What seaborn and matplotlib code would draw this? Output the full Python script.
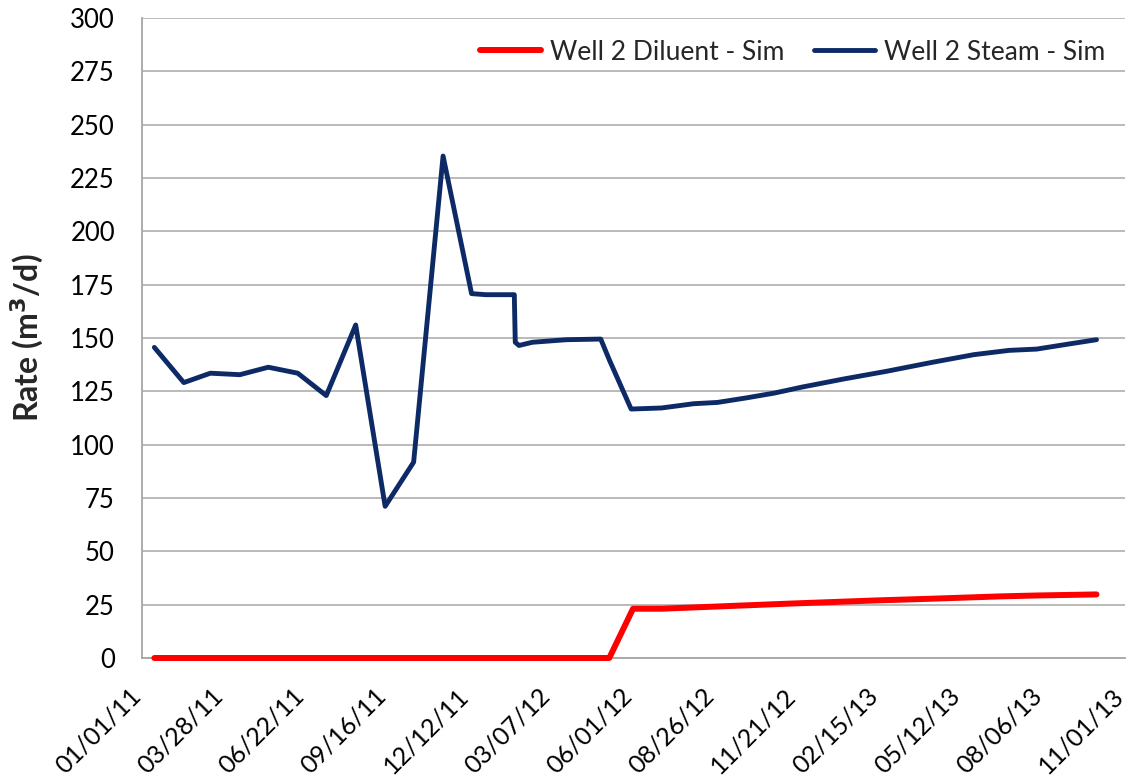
import numpy as np
import pandas as pd
import matplotlib
matplotlib.use('Agg')
import matplotlib.pyplot as plt
import matplotlib.dates as mdates
import seaborn as sns

# Well 2 steam injection rate (simulated), m3/d
steam_dates = ['2011-01-14', '2011-02-14', '2011-03-14', '2011-04-14', '2011-05-14',
               '2011-06-14', '2011-07-14', '2011-08-14', '2011-09-14', '2011-10-14',
               '2011-11-14', '2011-12-14', '2011-12-29', '2012-01-28', '2012-01-29',
               '2012-02-02', '2012-02-16', '2012-03-23', '2012-04-28', '2012-05-07',
               '2012-05-30', '2012-07-01', '2012-08-04', '2012-08-29', '2012-09-28',
               '2012-10-28', '2012-11-26', '2013-01-09', '2013-02-23', '2013-04-12',
               '2013-05-26', '2013-07-02', '2013-07-31', '2013-09-03', '2013-10-02']
steam_rate = [145.6, 129.1, 133.5, 132.8, 136.3,
              133.5, 123.0, 156.1, 71.1, 91.8,
              235.3, 170.8, 170.3, 170.3, 148.0,
              146.5, 148.0, 149.2, 149.5, 139.8,
              116.7, 117.2, 119.2, 119.8, 121.9,
              124.2, 127.0, 130.8, 134.4, 138.6,
              142.2, 144.2, 144.8, 147.2, 149.2]

# Well 2 diluent rate (simulated), m3/d
diluent_dates = ['2011-01-14', '2012-05-07', '2012-06-01', '2012-07-01', '2012-09-01',
                 '2012-11-13', '2013-02-13', '2013-04-12', '2013-06-24', '2013-07-31',
                 '2013-10-02']
diluent_rate = [0.0, 0.0, 23.1, 23.1, 24.2,
                25.5, 27.0, 27.8, 28.9, 29.3,
                29.8]

axis_start = '2011-01-01'
axis_end = '2013-11-01'
n_date_ticks = 13
y_ticks = list(range(0, 301, 25))

sns.set_style('white')
plt.rcParams['font.family'] = ['Lato', 'DejaVu Sans']

steam = pd.DataFrame({'date': pd.to_datetime(steam_dates), 'rate': steam_rate})
diluent = pd.DataFrame({'date': pd.to_datetime(diluent_dates), 'rate': diluent_rate})

fig = plt.figure(figsize=(11.35, 7.78), dpi=100)
ax = fig.add_axes([142 / 1135, 1 - 658 / 778, 983 / 1135, 640 / 778])

sns.lineplot(data=diluent, x='date', y='rate', ax=ax, color='#ff0000', lw=4.3,
             estimator=None, label='Well 2 Diluent - Sim', solid_capstyle='round',
             clip_on=False, zorder=3)
sns.lineplot(data=steam, x='date', y='rate', ax=ax, color='#0d2a66', lw=3.5,
             estimator=None, label='Well 2 Steam - Sim', solid_capstyle='round',
             zorder=3)

# axes
x0 = mdates.date2num(pd.Timestamp(axis_start))
x1 = mdates.date2num(pd.Timestamp(axis_end))
ax.set_xlim(x0, x1)
ax.set_xticks(np.linspace(x0, x1, n_date_ticks))
ax.xaxis.set_major_formatter(mdates.DateFormatter('%m/%d/%y'))
ax.set_ylim(0, 300)
ax.set_yticks(y_ticks)

grey = '#a6a6a6'
ax.yaxis.grid(True, color='#b4b4b4', lw=1.3)
ax.xaxis.grid(False)
ax.set_axisbelow(True)
for side in ['top', 'right']:
    ax.spines[side].set_visible(False)
for side in ['left', 'bottom']:
    ax.spines[side].set_color(grey)
    ax.spines[side].set_linewidth(1.3)

ax.tick_params(axis='both', direction='out', length=6.5, width=1.3, color=grey,
               labelsize=18.5, labelcolor='black')
ax.tick_params(axis='y', pad=13)
ax.tick_params(axis='x', pad=22, labelsize=18)
for lbl in ax.get_xticklabels():
    lbl.set_rotation(45)
    lbl.set_ha('right')
    lbl.set_va('baseline')
    lbl.set_rotation_mode('anchor')

ax.set_xlabel('')
ax.set_ylabel('Rate (m$\\mathbf{^3}$/d)', fontsize=23, fontweight='bold')
ax.yaxis.set_label_coords(-0.098, 0.5)

ax.legend(loc='center right', bbox_to_anchor=((1105 - 142) / 983, 1 - 34 / 640),
          ncol=2, frameon=False, fontsize=19, handlelength=2.3,
          handletextpad=0.35, columnspacing=1.1, borderaxespad=0, borderpad=0)

fig.savefig('out.png', dpi=100)
